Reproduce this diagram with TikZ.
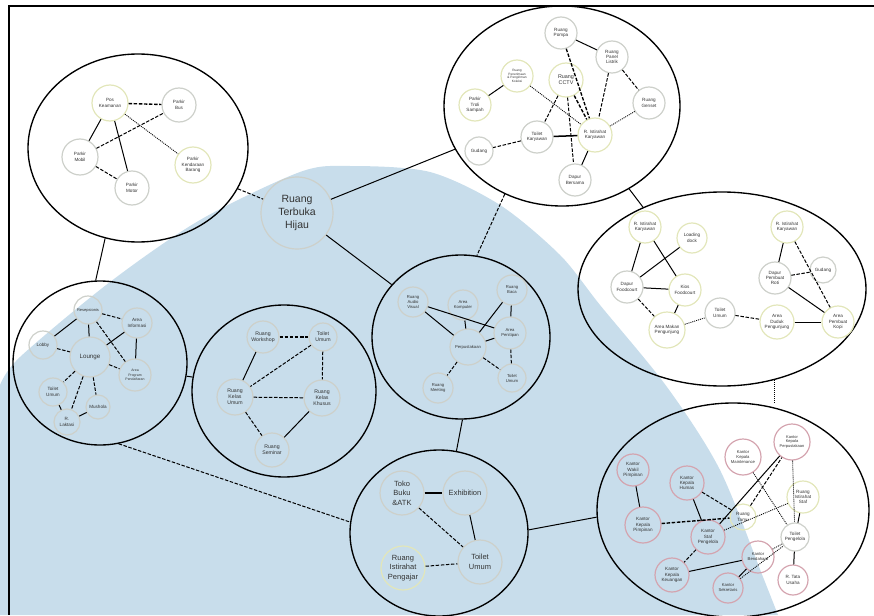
\documentclass[tikz,border=0pt]{standalone}
\usepackage{fontspec}
\setmainfont{Liberation Sans}
\usetikzlibrary{shapes.geometric}
\definecolor{subg}{RGB}{205,208,202}
\definecolor{suby}{RGB}{226,230,186}
\definecolor{subp}{RGB}{212,164,175}
\definecolor{wm}{RGB}{200,221,235}
\begin{document}
\begin{tikzpicture}[x=1pt,y=-1pt,
  cl/.style={draw, ellipse, line width=1.35pt, inner sep=0pt},
  sub/.style={circle, draw=subg, line width=1.2pt, inner sep=0pt, align=center,
    text=black!80, font=\fontsize{4.6}{5.4}\selectfont, minimum size=32pt},
  yel/.style={draw=suby},
  pnk/.style={draw=subp},
  ln/.style={line width=1pt},
  lnb/.style={line width=1.5pt},
  ds/.style={line width=1pt, dash pattern=on 3.5pt off 1.6pt},
  dsb/.style={line width=1.4pt, dash pattern=on 3.5pt off 1.6pt},
  dt/.style={line width=0.85pt, dash pattern=on 1pt off 1pt},
]
\useasboundingbox (0,0) rectangle (874,615);
% watermark area
\fill[wm] (0,615) -- plot[smooth] coordinates {(0,385) (20,357) (110,282) (200,220) (300,172) (350,166) (430,172) (500,205) (560,255) (600,305) (667,387) (720,470) (763,577) (778,615)} -- cycle;
% frame
\draw[line width=1.4pt] (874,6) -- (9,6) -- (9,615);

% clusters
\node[cl, minimum width=220pt, minimum height=188pt] (P) at (138,148) {};
\node[cl, minimum width=236pt, minimum height=200pt] (T) at (562,106) {};
\node[cl, minimum width=288pt, minimum height=194pt] (R) at (722,289) {};
\node[cl, minimum width=174pt, minimum height=164pt] (L) at (100,363) {};
\node[cl, minimum width=184pt, minimum height=172pt] (K) at (284,391) {};
\node[cl, minimum width=178pt, minimum height=164pt] (B) at (461,337) {};
\node[cl, minimum width=178pt, minimum height=166pt] (S) at (439,533) {};
\node[cl, minimum width=272pt, minimum height=214pt] (O) at (733,510) {};
\node[sub, minimum size=72pt, font=\fontsize{10.5}{13}\selectfont] (rth) at (297,213) {Ruang\\Terbuka\\Hijau};

% cluster connectors
\draw[ds] (P) -- (rth);
\draw[ln] (P.250) -- (L.93);
\draw[ln] (T) -- (rth);
\draw[ln] (rth) -- (B);
\draw[ds] (T.237) -- (B.79);
\draw[ln] (T.309) -- (R.134);
\draw[dt] (R.300) -- (R.300 |- O.north);
\draw[ln] (L) -- (K);
\draw[ds] (L.283) -- (S.173);
\draw[ln] (B.271) -- (S.78);
\draw[ln] (S.2) -- (O.183);

% parking cluster
\node[sub,yel, minimum size=36pt] (pos) at (110,103) {Pos\\Keamanan};
\node[sub, minimum size=34pt] (bus) at (179,105) {Parkir\\Bus};
\node[sub, minimum size=36pt] (mob) at (80,157) {Parkir\\Mobil};
\node[sub,yel, minimum size=36pt] (kb) at (193,165) {Parkir\\Kendaraan\\Barang};
\node[sub, minimum size=34pt] (mot) at (132,188) {Parkir\\Motor};
\draw[dsb] (pos) -- (bus);
\draw[ln] (pos) -- (mob);
\draw[ln] (pos) -- (mot);
\draw[dt] (pos) -- (kb);
\draw[ds] (mob) -- (bus);
\draw[ds] (mob) -- (mot);

% top cluster
\node[sub] (pompa) at (561,33) {Ruang\\Pompa};
\node[sub] (panel) at (612,57) {Ruang\\Panel\\Listrik};
\node[sub,yel, font=\fontsize{3.2}{3.8}\selectfont] (pen) at (517,76) {Ruang\\Penerimaan\\\& Pengiriman\\Koleksi};
\node[sub,yel, minimum size=34pt, font=\fontsize{5.4}{6.2}\selectfont] (cctv) at (566,80) {Ruang\\CCTV};
\node[sub,yel] (troli) at (475,105) {Parkir\\Troli\\Sampah};
\node[sub] (genset) at (649,103) {Ruang\\Genset};
\node[sub] (toik) at (537,137) {Toilet\\Karyawan};
\node[sub,yel, minimum size=34pt] (rik) at (595,135) {R. Istirahat\\Karyawan};
\node[sub, minimum size=28pt] (gud) at (479,151) {Gudang};
\node[sub] (dapur) at (575,180) {Dapur\\Bersama};
\draw[ln] (pompa) -- (panel);
\draw[dsb] (pompa) -- (rik);
\draw[ds] (panel) -- (rik);
\draw[ds] (panel) -- (genset);
\draw[dt] (genset) -- (rik);
\draw[ln] (pen) -- (troli);
\draw[dt] (pen) -- (rik);
\draw[ds] (cctv) -- (toik);
\draw[ds] (cctv) -- (dapur);
\draw[dsb] (cctv) -- (rik);
\draw[lnb] (toik) -- (rik);
\draw[ds] (toik) -- (gud);
\draw[ln] (rik) -- (dapur);

% right cluster
\node[sub,yel] (rik1) at (645,227) {R. Istirahat\\Karyawan};
\node[sub,yel, minimum size=30pt] (load) at (692,238) {Loading\\dock};
\node[sub] (dfc) at (627,287) {Dapur\\Foodcourt};
\node[sub,yel] (kios) at (685,290) {Kios\\Foodcourt};
\node[sub,yel, minimum size=36pt] (amp) at (667,330) {Area Makan\\Pengunjung};
\node[sub, minimum size=30pt] (tu) at (720,313) {Toilet\\Umum};
\node[sub,yel, minimum size=34pt] (adp) at (777,322) {Area\\Duduk\\Pengunjung};
\node[sub,yel] (rik2) at (787,227) {R. Istirahat\\Karyawan};
\node[sub] (droti) at (775,278) {Dapur\\Pembuat\\Roti};
\node[sub, minimum size=26pt] (gud2) at (823,270) {Gudang};
\node[sub,yel] (kopi) at (838,322) {Area\\Pembuat\\Kopi};
\draw[ln] (rik1) -- (dfc);
\draw[ln] (rik1) -- (kios);
\draw[ln] (load) -- (dfc);
\draw[ln] (dfc) -- (kios);
\draw[ds] (dfc) -- (amp);
\draw[ln] (kios) -- (amp);
\draw[dt] (amp) -- (tu);
\draw[ds] (tu) -- (adp);
\draw[ln] (adp) -- (kopi);
\draw[ln] (rik2) -- (droti);
\draw[ds] (rik2) -- (kopi);
\draw[ds] (droti) -- (gud2);
\draw[ln] (droti) -- (kopi);

% lounge cluster
\node[sub, minimum size=28pt, font=\fontsize{4}{4.8}\selectfont] (res) at (88,310) {Resepsionis};
\node[sub, minimum size=30pt] (ainf) at (137,323) {Area\\Informasi};
\node[sub, minimum size=28pt] (lobby) at (43,345) {Lobby};
\node[sub, minimum size=40pt, font=\fontsize{6.2}{7}\selectfont] (lounge) at (90,357) {Lounge};
\node[sub, minimum size=32pt, font=\fontsize{3.5}{4.2}\selectfont] (aprog) at (135,375) {Area\\Program\\Pendaftaran};
\node[sub, minimum size=28pt] (tlu) at (53,392) {Toilet\\Umum};
\node[sub, minimum size=24pt] (mush) at (98,407) {Mushola};
\node[sub, minimum size=26pt] (rlak) at (67,422) {R.\\Laktasi};
\draw[ln] (res) -- (lobby);
\draw[ln] (res) -- (lounge);
\draw[ds] (res) -- (ainf);
\draw[ds] (res) -- (aprog);
\draw[ln] (ainf) -- (lounge);
\draw[ln] (ainf) -- (aprog);
\draw[ds] (lobby) -- (lounge);
\draw[ds] (lounge) -- (aprog);
\draw[ds] (lounge) -- (tlu);
\draw[ds] (lounge) -- (rlak);
\draw[ds] (lounge) -- (mush);
\draw[ln] (tlu) -- (rlak);
\draw[ln] (mush) -- (rlak);

% kelas cluster
\node[sub, font=\fontsize{5.2}{6}\selectfont] (work) at (263,337) {Ruang\\Workshop};
\node[sub, minimum size=28pt, font=\fontsize{5.2}{6}\selectfont] (tk) at (323,337) {Toilet\\Umum};
\node[sub, minimum size=36pt, font=\fontsize{5.2}{6}\selectfont] (ku) at (235,397) {Ruang\\Kelas\\Umum};
\node[sub, minimum size=36pt, font=\fontsize{5.2}{6}\selectfont] (kk) at (322,398) {Ruang\\Kelas\\Khusus};
\node[sub, minimum size=34pt, font=\fontsize{5.2}{6}\selectfont] (sem) at (272,450) {Ruang\\Seminar};
\draw[dsb] (work) -- (tk);
\draw[ln] (work) -- (ku);
\draw[ds] (tk) -- (ku);
\draw[ds] (tk) -- (kk);
\draw[ds] (ku) -- (kk);
\draw[ds] (ku) -- (sem);
\draw[ln] (kk) -- (sem);

% perpustakaan cluster
\node[sub, minimum size=30pt, font=\fontsize{4.2}{5}\selectfont] (av) at (413,302) {Ruang\\Audio\\Visual};
\node[sub, minimum size=30pt, font=\fontsize{4.2}{5}\selectfont] (akom) at (463,305) {Area\\Komputer};
\node[sub, minimum size=30pt, font=\fontsize{4.2}{5}\selectfont] (rbaca) at (512,290) {Ruang\\Baca};
\node[sub, minimum size=32pt, font=\fontsize{4.2}{5}\selectfont] (apen) at (510,333) {Area\\Penitipan};
\node[sub, minimum size=36pt, font=\fontsize{4.2}{5}\selectfont] (perp) at (468,347) {Perpustakaan};
\node[sub, minimum size=28pt, font=\fontsize{4.2}{5}\selectfont] (tup) at (512,378) {Toilet\\Umum};
\node[sub, minimum size=30pt, font=\fontsize{4.2}{5}\selectfont] (rmeet) at (438,388) {Ruang\\Meeting};
\draw[ln] (av) -- (perp);
\draw[ln] (av) -- (apen);
\draw[ln] (akom) -- (perp);
\draw[ln] (rbaca) -- (perp);
\draw[ln] (rbaca) -- (apen);
\draw[ln] (perp) -- (apen);
\draw[ds] (apen) -- (tup);
\draw[ds] (perp) -- (tup);
\draw[ds] (perp) -- (rmeet);

% toko cluster
\node[sub, minimum size=44pt, font=\fontsize{7.5}{9.5}\selectfont] (toko) at (402,493) {Toko\\Buku\\\&ATK};
\node[sub, minimum size=44pt, font=\fontsize{7.5}{9.5}\selectfont] (exh) at (465,493) {Exhibition};
\node[sub, minimum size=44pt, font=\fontsize{7.5}{9.5}\selectfont] (tus) at (480,562) {Toilet\\Umum};
\node[sub,yel, minimum size=44pt, font=\fontsize{7.5}{9.5}\selectfont] (rip) at (403,568) {Ruang\\Istirahat\\Pengajar};
\draw[lnb] (toko) -- (exh);
\draw[ds] (toko) -- (tus);
\draw[ln] (exh) -- (tus);
\draw[ds] (rip) -- (tus);

% kantor cluster
\node[sub,pnk] (kwp) at (633,470) {Kantor\\Wakil\\Pimpinan};
\node[sub,pnk, minimum size=34pt] (kkh) at (687,483) {Kantor\\Kepala\\Humas};
\node[sub,pnk, minimum size=36pt, font=\fontsize{4.2}{5}\selectfont] (kkm) at (743,457) {Kantor\\Kepala\\Maintenance};
\node[sub,pnk, minimum size=36pt, font=\fontsize{4}{4.8}\selectfont] (kkp) at (792,442) {Kantor\\Kepala\\Perpustakaan};
\node[sub,yel] (ris) at (803,497) {Ruang\\Istirahat\\Staf};
\node[sub,pnk, minimum size=36pt] (kpim) at (643,525) {Kantor\\Kepala\\Pimpinan};
\node[sub,yel, minimum size=26pt] (rtamu) at (743,517) {Ruang\\Tamu};
\node[sub,pnk, minimum size=34pt] (ksp) at (708,537) {Kantor\\Staf\\Pengelola};
\node[sub, minimum size=28pt] (tpg) at (795,537) {Toilet\\Pengelola};
\node[sub,pnk, font=\fontsize{4.2}{5}\selectfont] (kbend) at (758,557) {Kantor\\Bendahara};
\node[sub,pnk, minimum size=34pt] (kkeu) at (672,575) {Kantor\\Kepala\\Keuangan};
\node[sub,pnk, minimum size=30pt, font=\fontsize{4.2}{5}\selectfont] (ksek) at (728,588) {Kantor\\Sekretaris};
\node[sub,pnk, minimum size=30pt] (rtu) at (793,580) {R. Tata\\Usaha};
\draw[ln] (kwp) -- (kpim);
\draw[dsb] (kpim) -- (rtamu);
\draw[ds] (kkh) -- (rtamu);
\draw[ln] (kkh) -- (ksp);
\draw[ln] (ksp) -- (kkp);
\draw[ds] (rtamu) -- (kkp);
\draw[dt] (kkm) -- (tpg);
\draw[dt] (kkp) -- (tpg);
\draw[ln] (ris) -- (tpg);
\draw[dt] (ksp) -- (ris);
\draw[ds] (ksp) -- (kkeu);
\draw[ln] (kkeu) -- (kbend);
\draw[ln] (kbend) -- (ksek);
\draw[dt] (kbend) -- (tpg);
\draw[dt] (ksek) -- (tpg);
\draw[ln] (tpg) -- (rtu);
\end{tikzpicture}
\end{document}
